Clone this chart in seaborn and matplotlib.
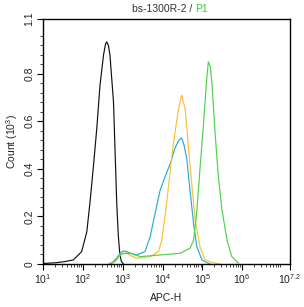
import numpy as np
import pandas as pd
import matplotlib
matplotlib.use("Agg")
import matplotlib.pyplot as plt
import seaborn as sns

# Data: log10(APC-H) positions and counts (10^3)
black_log = [1.0, 1.3, 1.51, 1.76, 1.97, 2.10, 2.18, 2.26, 2.35, 2.43, 2.52, 2.57, 2.60, 2.64, 2.68, 2.77, 2.81, 2.85, 2.89, 2.93, 2.97, 3.02]
black_cnt = [0.002, 0.005, 0.009, 0.017, 0.052, 0.136, 0.26, 0.40, 0.57, 0.75, 0.88, 0.925, 0.934, 0.92, 0.88, 0.68, 0.47, 0.26, 0.12, 0.038, 0.01, 0.0]

blue_log = [2.65, 2.75, 2.85, 2.93, 3.02, 3.10, 3.20, 3.35, 3.56, 3.69, 3.81, 3.94, 4.07, 4.19, 4.32, 4.41, 4.48, 4.54, 4.61, 4.69, 4.78, 4.86, 4.99, 5.1, 5.2]
blue_cnt = [0.0, 0.008, 0.025, 0.045, 0.055, 0.052, 0.045, 0.038, 0.052, 0.115, 0.21, 0.31, 0.37, 0.42, 0.49, 0.52, 0.53, 0.50, 0.44, 0.31, 0.17, 0.073, 0.017, 0.007, 0.0]

yellow_log = [2.68, 2.78, 2.86, 2.93, 3.02, 3.10, 3.20, 3.35, 3.69, 3.90, 3.98, 4.07, 4.15, 4.23, 4.32, 4.40, 4.48, 4.57, 4.65, 4.74, 4.82, 4.94, 5.07, 5.25, 5.45]
yellow_cnt = [0.0, 0.008, 0.02, 0.038, 0.045, 0.045, 0.035, 0.024, 0.031, 0.052, 0.10, 0.21, 0.325, 0.45, 0.56, 0.65, 0.71, 0.65, 0.49, 0.325, 0.185, 0.073, 0.017, 0.006, 0.0]

green_log = [2.70, 2.80, 2.87, 2.93, 3.05, 3.19, 3.44, 3.94, 4.44, 4.69, 4.78, 4.86, 4.94, 5.03, 5.10, 5.15, 5.20, 5.24, 5.32, 5.40, 5.49, 5.62, 5.74, 5.91]
green_cnt = [0.0, 0.01, 0.025, 0.04, 0.045, 0.045, 0.031, 0.038, 0.045, 0.066, 0.10, 0.22, 0.40, 0.59, 0.76, 0.85, 0.83, 0.76, 0.55, 0.37, 0.23, 0.10, 0.031, 0.003]

series_names = ["control", "blue", "yellow", "green"]
series_colors = ["#111111", "#27a9e1", "#f8c232", "#4ed24a"]

xtick_exps = [1, 2, 3, 4, 5, 6, 7.2]
xtick_labels = ["$10^{1}$", "$10^{2}$", "$10^{3}$", "$10^{4}$", "$10^{5}$", "$10^{6}$", "$10^{7.2}$"]
ytick_vals = [0, 0.2, 0.4, 0.6, 0.8, 1.03]
ytick_labels = ["0", "0.2", "0.4", "0.6", "0.8", "1.1"]

frames = []
for name, lg, ct in zip(series_names,
                        [black_log, blue_log, yellow_log, green_log],
                        [black_cnt, blue_cnt, yellow_cnt, green_cnt]):
    frames.append(pd.DataFrame({"APC": np.power(10.0, lg), "Count": ct, "s": name}))
df = pd.concat(frames, ignore_index=True)

sns.set_style("ticks")
plt.rcParams["font.family"] = ["Liberation Sans", "DejaVu Sans"]
plt.rcParams["mathtext.fontset"] = "custom"
plt.rcParams["mathtext.rm"] = "Liberation Sans"
plt.rcParams["mathtext.it"] = "Liberation Sans"
plt.rcParams["mathtext.default"] = "regular"

fig = plt.figure(figsize=(3.04, 3.07), dpi=100)
ax = fig.add_axes([43 / 304, 1 - 264 / 307, (290 - 43) / 304, (264 - 19) / 307])

sns.lineplot(data=df, x="APC", y="Count", hue="s", palette=series_colors,
             hue_order=series_names, sort=False, estimator=None, lw=0.85,
             legend=False, ax=ax)

ax.set_xscale("log")
ax.set_xlim(10 ** 1, 10 ** 7.2)
ax.set_ylim(0, 1.03)
ax.set_xticks([10 ** e for e in xtick_exps])
ax.set_xticklabels(xtick_labels)
ax.xaxis.set_minor_locator(matplotlib.ticker.LogLocator(base=10, subs=np.arange(2, 10), numticks=20))
ax.xaxis.set_minor_formatter(matplotlib.ticker.NullFormatter())
ax.set_yticks(ytick_vals)
ax.set_yticklabels(ytick_labels, rotation=90, va="center")
ax.set_yticks([m for m in np.arange(0.04, 0.97, 0.04) if min(abs(m - v) for v in ytick_vals) > 0.01], minor=True)

for sp in ax.spines.values():
    sp.set_linewidth(1.0)
    sp.set_color("black")
ax.tick_params(which="major", direction="out", length=4, width=0.8, labelsize=7.5, colors="black", pad=2)
ax.tick_params(which="minor", direction="out", length=2.5, width=0.6)
ax.tick_params(axis="y", labelcolor="#222222")
ax.tick_params(axis="x", labelcolor="#222222")

ax.set_xlabel("APC-H", fontsize=7.5, color="#222222", labelpad=5)
ax.set_ylabel("Count (10$^{3}$)", fontsize=7.5, color="#222222", labelpad=3)

fig.text(0.643, 0.972, "bs-1300R-2 / ", ha="right", va="center", fontsize=7.5, color="#333333")
fig.text(0.643, 0.972, "P1", ha="left", va="center", fontsize=7.5, color="#33cc33")

fig.savefig("out.png", dpi=100)
